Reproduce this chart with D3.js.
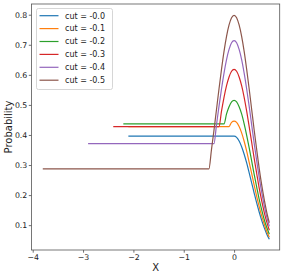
<!DOCTYPE html>
<html>
<head>
<meta charset="utf-8">
<script src="https://cdn.jsdelivr.net/npm/d3@7"></script>
<style>
  html, body { margin: 0; padding: 0; background: #fff; }
  svg { display: block; font-family: "DejaVu Sans", sans-serif; }
</style>
</head>
<body>
<svg id="chart" width="284" height="278"></svg>
<script>
// ---- data ----
const seriesNames = ["cut = -0.0", "cut = -0.1", "cut = -0.2", "cut = -0.3", "cut = -0.4", "cut = -0.5"];
const colors = ["#1f77b4", "#ff7f0e", "#2ca02c", "#d62728", "#9467bd", "#8c564b"];
const flatStart = [-2.1, -2.1, -2.2, -2.4, -2.9, -3.8];
const curveX = [-0.5, -0.45, -0.4, -0.35, -0.3, -0.25, -0.2, -0.15, -0.1, -0.05, 0,
                 0.05, 0.1, 0.15, 0.2, 0.25, 0.3, 0.35, 0.4, 0.45, 0.5, 0.55, 0.6, 0.65, 0.7];
// values from each series' cut point up to x = 0.7 (aligned to the end of curveX)
const probCut00 = [0.396, 0.392, 0.380, 0.361, 0.336, 0.307, 0.274, 0.240, 0.206, 0.173, 0.143, 0.115, 0.091, 0.070, 0.053];
const probCut01 = [0.428, 0.442, 0.446, 0.442, 0.428, 0.407, 0.379, 0.346, 0.309, 0.271, 0.232, 0.195, 0.161, 0.130, 0.103, 0.079, 0.060];
const probCut02 = [0.437, 0.470, 0.494, 0.510, 0.515, 0.510, 0.494, 0.470, 0.437, 0.399, 0.357, 0.313, 0.268, 0.226, 0.185, 0.150, 0.118, 0.092, 0.070];
const probCut03 = [0.428, 0.479, 0.525, 0.564, 0.593, 0.612, 0.618, 0.612, 0.593, 0.564, 0.525, 0.479, 0.428, 0.375, 0.321, 0.271, 0.222, 0.180, 0.142, 0.110, 0.083];
const probCut04 = [0.371, 0.433, 0.495, 0.553, 0.606, 0.651, 0.685, 0.707, 0.714, 0.707, 0.685, 0.651, 0.606, 0.553, 0.495, 0.433, 0.371, 0.313, 0.257, 0.208, 0.164, 0.127, 0.096];
const probCut05 = [0.287, 0.350, 0.415, 0.484, 0.553, 0.618, 0.678, 0.728, 0.766, 0.790, 0.798, 0.790, 0.766, 0.728, 0.678, 0.618, 0.553, 0.484, 0.415, 0.350, 0.287, 0.232, 0.184, 0.142, 0.108];
const allProbs = [probCut00, probCut01, probCut02, probCut03, probCut04, probCut05];
const xTicks = [-4, -3, -2, -1, 0];
const yTicks = [0.1, 0.2, 0.3, 0.4, 0.5, 0.6, 0.7, 0.8];
const xLabel = "X";
const yLabel = "Probability";

// ---- layout ----
const svg = d3.select("#chart");
const pL = 31.5, pR = 279.7, pT = 4, pB = 250;
const x = d3.scaleLinear().domain([-4.024, 0.906]).range([pL, pR]);
const y = d3.scaleLinear().domain([0.0173, 0.8357]).range([pB, pT]);

const series = allProbs.map((vals, i) => {
  const xs = curveX.slice(curveX.length - vals.length);
  const pts = [[flatStart[i], vals[0]]].concat(xs.map((xv, j) => [xv, vals[j]]));
  return { name: seriesNames[i], color: colors[i], pts };
});

const line = d3.line().x(d => x(d[0])).y(d => y(d[1])).curve(d3.curveMonotoneX);

svg.append("defs").append("clipPath").attr("id", "clip")
  .append("rect").attr("x", pL).attr("y", pT).attr("width", pR - pL).attr("height", pB - pT);

const g = svg.append("g").attr("clip-path", "url(#clip)");
series.forEach(s => {
  g.append("path").attr("d", line(s.pts)).attr("fill", "none")
    .attr("stroke", s.color).attr("stroke-width", 1.2).attr("stroke-linejoin", "round");
});

// axes
const fmtX = d => (d < 0 ? "\u2212" + Math.abs(d) : String(d));
const xAxis = svg.append("g").attr("transform", `translate(0,${pB})`)
  .call(d3.axisBottom(x).tickValues(xTicks).tickFormat(fmtX).tickSize(2.7).tickSizeOuter(0));
const yAxis = svg.append("g").attr("transform", `translate(${pL},0)`)
  .call(d3.axisLeft(y).tickValues(yTicks).tickFormat(d3.format(".1f")).tickSize(2.7).tickSizeOuter(0));
[xAxis, yAxis].forEach(a => {
  a.select(".domain").remove();
  a.selectAll(".tick line").attr("stroke", "#333").attr("stroke-width", 0.7);
  a.selectAll(".tick text").attr("fill", "#222").style("font-size", "7.8px")
    .style("font-family", "DejaVu Sans, sans-serif");
});
xAxis.selectAll(".tick text").attr("dy", "0.71em").attr("y", 4.2);
yAxis.selectAll(".tick text").attr("x", -4.2);

// frame
svg.append("rect").attr("x", pL).attr("y", pT).attr("width", pR - pL).attr("height", pB - pT)
  .attr("fill", "none").attr("stroke", "#555").attr("stroke-width", 0.8);

// axis labels
svg.append("text").attr("x", (pL + pR) / 2).attr("y", 271).attr("text-anchor", "middle")
  .style("font-size", "10px").attr("fill", "#222").text(xLabel);
svg.append("text").attr("transform", `translate(12,${(pT + pB) / 2}) rotate(-90)`)
  .attr("text-anchor", "middle").style("font-size", "10px").attr("fill", "#222").text(yLabel);

// legend
const lg = svg.append("g");
lg.append("rect").attr("x", 36.5).attr("y", 8.5).attr("width", 76).attr("height", 81).attr("rx", 2)
  .attr("fill", "#fff").attr("fill-opacity", 0.8).attr("stroke", "#ccc").attr("stroke-width", 0.8);
series.forEach((s, i) => {
  const cy = 15.7 + i * 12.9;
  lg.append("line").attr("x1", 39.5).attr("x2", 58.5).attr("y1", cy).attr("y2", cy)
    .attr("stroke", s.color).attr("stroke-width", 1.2);
  lg.append("text").attr("x", 65).attr("y", cy).attr("dy", "0.35em").style("font-size", "8px")
    .attr("fill", "#222").text(s.name);
});
</script>
</body>
</html>
